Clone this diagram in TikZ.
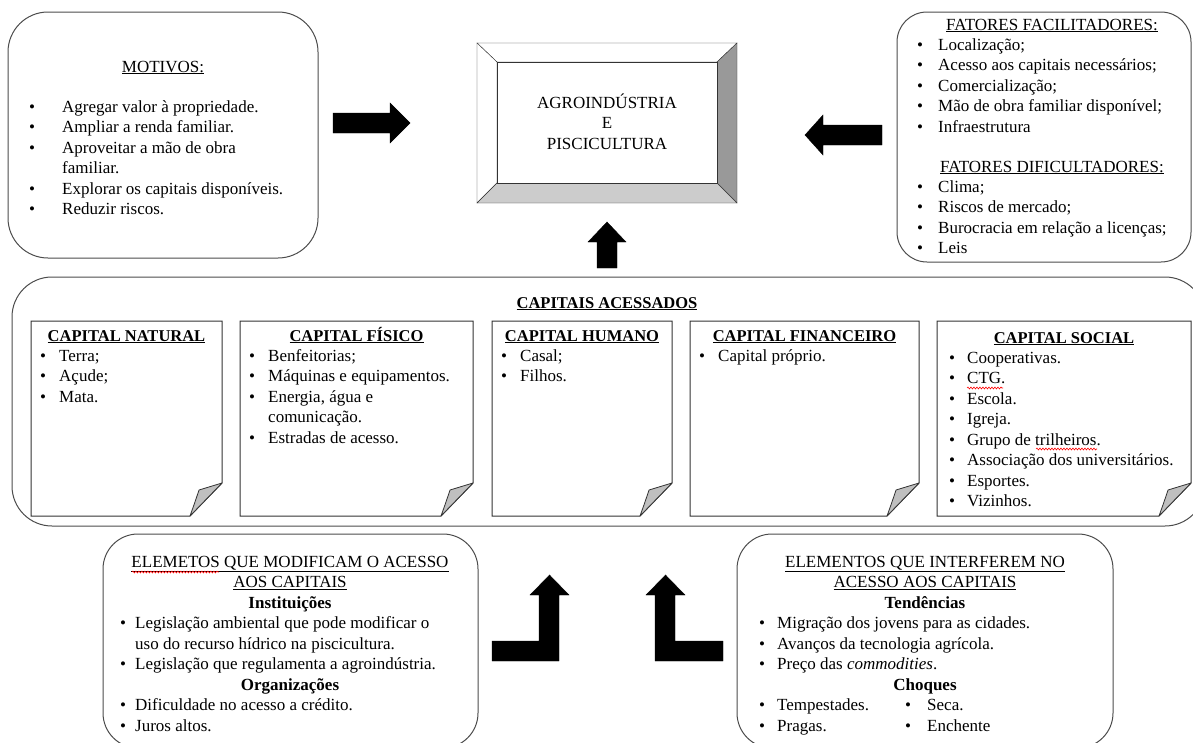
\documentclass[tikz,border=0pt]{standalone}
\usepackage{fontspec}
\setmainfont{Liberation Serif}
\usetikzlibrary{decorations.pathmorphing}
\newcommand{\fs}{\fontsize{17}{20.5}\selectfont}
\newcommand{\fst}{\fontsize{16.5}{20.5}\selectfont}
\newcommand{\bl}{\textbullet}
\tikzset{
  rbox/.style={draw=black!70, line width=1pt, rounded corners=#1},
  notebox/.style={draw=black!80, line width=1pt, fill=white},
  foldst/.style={draw=black!80, line width=0.8pt, fill=black!25, line join=round},
  blockarrow/.style={fill=black, draw=black, line join=miter},
  txt/.style={inner sep=0pt, font=\fs},
  spell/.style={draw=red, line width=0.6pt, decorate,
     decoration={snake, amplitude=0.9pt, segment length=3pt}},
}
\newcommand{\capnote}[4]{%
  \draw[notebox] (#1,#2) -- (#3,#2) -- (#3,#4-33) -- (#3-32,#4) -- (#1,#4) -- cycle;
  \draw[foldst] (#3,#4-33) -- (#3-23,#4-26) .. controls (#3-27,#4-14) .. (#3-32,#4) -- cycle;}
\begin{document}
\begin{tikzpicture}[x=1pt,y=-1pt]
\useasboundingbox (0,0) rectangle (1193,742);
\clip (0,0) rectangle (1193,742);

% ---------------- MOTIVOS
\draw[rbox=40] (8,12) rectangle (318,258);
\node[txt, anchor=base] (motT) at (163,72) {\underline{MOTIVOS:}};
\node[txt, anchor=base west] (motL) at (29,112) {\begin{tabular}[t]{@{}p{33pt}@{}l@{}}
\bl & Agregar valor à propriedade.\\
\bl & Ampliar a renda familiar.\\
\bl & Aproveitar a mão de obra\\
    & familiar.\\
\bl & Explorar os capitais disponíveis.\\
\bl & Reduzir riscos.
\end{tabular}};

% ---------------- CENTRE
\filldraw[fill=white, draw=black!80] (477,43) -- (737,43) -- (717,62) -- (497,62) -- cycle;
\filldraw[fill=white, draw=black!80] (477,43) -- (497,62) -- (497,183) -- (477,203) -- cycle;
\filldraw[fill=black!40, draw=black!80] (737,43) -- (737,203) -- (717,183) -- (717,62) -- cycle;
\filldraw[fill=black!20, draw=black!80] (477,203) -- (737,203) -- (717,183) -- (497,183) -- cycle;
\node[draw=black!80, fill=white, minimum width=220pt, minimum height=121pt, inner sep=0pt] (agro) at (607,122.5) {};
\node[txt, anchor=base] (agroT) at (607,108) {\begin{tabular}[t]{@{}c@{}}AGROINDÚSTRIA\\E\\PISCICULTURA\end{tabular}};

% ---------------- BLOCK ARROWS
\filldraw[blockarrow] (333,113) -- (390,113) -- (390,103) -- (410,123) -- (390,143)
  -- (390,133) -- (333,133) -- cycle;
\filldraw[blockarrow] (882,125) -- (823,125) -- (823,115) -- (805,135) -- (823,155)
  -- (823,145) -- (882,145) -- cycle;
\filldraw[blockarrow] (597,268) -- (597,242) -- (588,242) -- (607,222) -- (626,242)
  -- (617,242) -- (617,268) -- cycle;

% ---------------- FATORES
\draw[rbox=30] (897,12) rectangle (1191,262);
\node[txt, anchor=base] (facT) at (1052,30) {\underline{FATORES FACILITADORES:}};
\node[txt, anchor=base west] (facL) at (917,50) {\begin{tabular}[t]{@{}p{21pt}@{}l@{}}
\bl & Localização;\\
\bl & Acesso aos capitais necessários;\\
\bl & Comercialização;\\
\bl & Mão de obra familiar disponível;\\
\bl & Infraestrutura
\end{tabular}};
\node[txt, anchor=base] (difT) at (1052,172) {\underline{FATORES DIFICULTADORES:}};
\node[txt, anchor=base west] (difL) at (917,192) {\begin{tabular}[t]{@{}p{21pt}@{}l@{}}
\bl & Clima;\\
\bl & Riscos de mercado;\\
\bl & Burocracia em relação a licenças;\\
\bl & Leis
\end{tabular}};

% ---------------- CAPITAIS
\draw[rbox=40] (12,277) rectangle (1205,526);
\node[txt, anchor=base, font=\fst\bfseries] (capT) at (607,308) {\underline{CAPITAIS ACESSADOS}};
\capnote{31}{321}{222}{516}
\capnote{240}{321}{473}{516}
\capnote{492}{321}{672}{516}
\capnote{690}{321}{919}{516}
\capnote{937}{321}{1191}{516}

\node[txt, anchor=base, font=\fst\bfseries] (natT) at (126.5,341) {\underline{CAPITAL NATURAL}};
\node[txt, anchor=base west] (natL) at (40,361) {\begin{tabular}[t]{@{}p{19pt}@{}l@{}}
\bl & Terra;\\ \bl & Açude;\\ \bl & Mata.
\end{tabular}};

\node[txt, anchor=base, font=\fst\bfseries] (fisT) at (356.5,341) {\underline{CAPITAL FÍSICO}};
\node[txt, anchor=base west] (fisL) at (249,361) {\begin{tabular}[t]{@{}p{19pt}@{}l@{}}
\bl & Benfeitorias;\\
\bl & Máquinas e equipamentos.\\
\bl & Energia, água e\\
    & comunicação.\\
\bl & Estradas de acesso.
\end{tabular}};

\node[txt, anchor=base, font=\fst\bfseries] (humT) at (582,341) {\underline{CAPITAL HUMANO}};
\node[txt, anchor=base west] (humL) at (501,361) {\begin{tabular}[t]{@{}p{19pt}@{}l@{}}
\bl & Casal;\\ \bl & Filhos.
\end{tabular}};

\node[txt, anchor=base, font=\fst\bfseries] (finT) at (804.5,341) {\underline{CAPITAL FINANCEIRO}};
\node[txt, anchor=base west] (finL) at (699,361) {\begin{tabular}[t]{@{}p{19pt}@{}l@{}}
\bl & Capital próprio.
\end{tabular}};

\node[txt, anchor=base, font=\fst\bfseries] (socT) at (1064,343) {\underline{CAPITAL SOCIAL}};
\node[txt, anchor=base west] (socL) at (949,363) {\begin{tabular}[t]{@{}p{18pt}@{}l@{}}
\bl & Cooperativas.\\
\bl & CTG.\\
\bl & Escola.\\
\bl & Igreja.\\
\bl & Grupo de trilheiros.\\
\bl & Associação dos universitários.\\
\bl & Esportes.\\
\bl & Vizinhos.
\end{tabular}};
\draw[spell] (967,388) -- (1003,388);
\draw[spell] (1036,449) -- (1097,449);

% ---------------- ELEMENTOS (left)
\draw[rbox=35] (103,534) rectangle (478,748);
\node[txt, anchor=base] (modT) at (290,567) {\begin{tabular}[t]{@{}c@{}}
\underline{ELEMETOS QUE MODIFICAM O ACESSO}\\
\underline{AOS CAPITAIS}\\
\textbf{Instituições}
\end{tabular}};
\draw[spell] (132,572) -- (219,572);
\node[txt, anchor=base west] (modL1) at (120,628.5) {\begin{tabular}[t]{@{}p{15pt}@{}l@{}}
\bl & Legislação ambiental que pode modificar o\\
    & uso do recurso hídrico na piscicultura.\\
\bl & Legislação que regulamenta a agroindústria.
\end{tabular}};
\node[txt, anchor=base, font=\fs\bfseries] (orgT) at (290,690) {Organizações};
\node[txt, anchor=base west] (modL2) at (120,710.5) {\begin{tabular}[t]{@{}p{15pt}@{}l@{}}
\bl & Dificuldade no acesso a crédito.\\
\bl & Juros altos.
\end{tabular}};

% ---------------- ELEMENTOS (right)
\draw[rbox=35] (737,534) rectangle (1113,748);
\node[txt, anchor=base] (intT) at (925,567) {\begin{tabular}[t]{@{}c@{}}
\underline{ELEMENTOS QUE INTERFEREM NO}\\
\underline{ACESSO AOS CAPITAIS}\\
\textbf{Tendências}
\end{tabular}};
\node[txt, anchor=base west] (intL1) at (759,628.5) {\begin{tabular}[t]{@{}p{18pt}@{}l@{}}
\bl & Migração dos jovens para as cidades.\\
\bl & Avanços da tecnologia agrícola.\\
\bl & Preço das \textit{commodities}.
\end{tabular}};
\node[txt, anchor=base, font=\fs\bfseries] (choT) at (925,690) {Choques};
\node[txt, anchor=base west] (intL2) at (759,710.5) {\begin{tabular}[t]{@{}p{18pt}@{}p{128pt}@{}p{22pt}@{}l@{}}
\bl & Tempestades. & \bl & Seca.\\
\bl & Pragas. & \bl & Enchente
\end{tabular}};

% ---------------- BENT ARROWS
\filldraw[blockarrow] (492,641) -- (539,641) -- (539,595) -- (530,595) -- (549.5,575)
  -- (569,595) -- (559,595) -- (559,661) -- (492,661) -- cycle;
\filldraw[blockarrow] (723,641) -- (675,641) -- (675,595) -- (685,595) -- (665.5,575)
  -- (646,595) -- (655,595) -- (655,661) -- (723,661) -- cycle;
\end{tikzpicture}
\end{document}
